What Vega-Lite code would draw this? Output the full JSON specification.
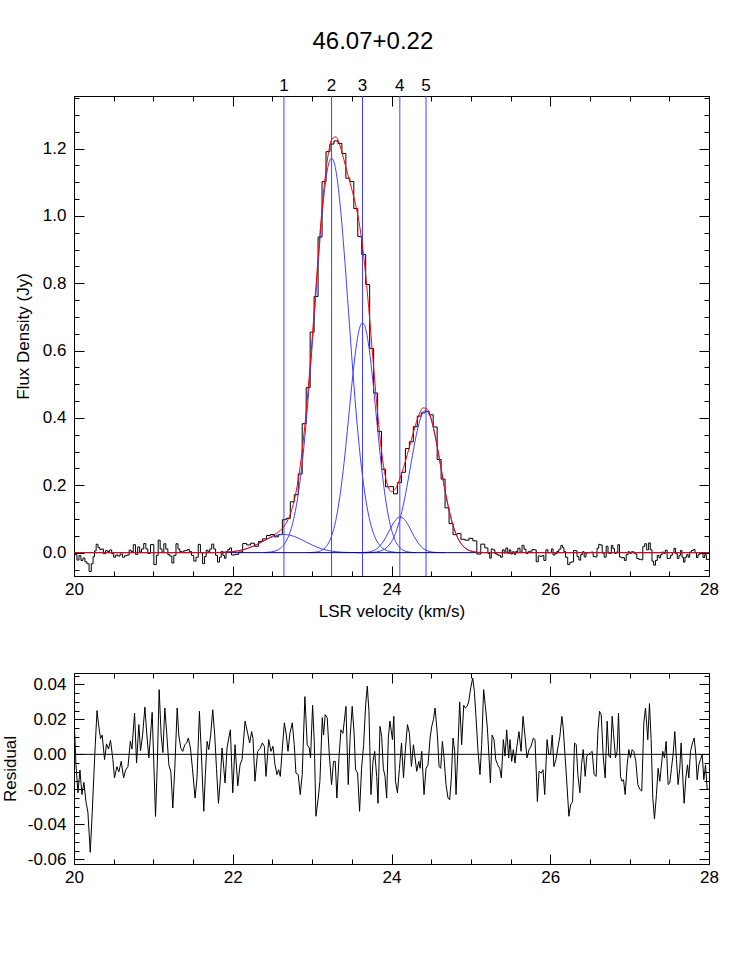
{
"$schema":"https://vega.github.io/schema/vega-lite/v6.json",
"background":"white",
"padding":{"left":1,"top":30,"right":20,"bottom":20},
"title":{"text":"46.07+0.22","fontSize":24,"fontWeight":"normal","font":"Liberation Sans","color":"black","anchor":"middle","offset":23,"dx":13},
"config":{"font":"Liberation Sans","view":{"stroke":null},
 "axis":{"labelFont":"Liberation Sans","titleFont":"Liberation Sans","labelFontSize":17,"titleFontSize":17,"titleFontWeight":"normal","labelColor":"black","titleColor":"black","domainColor":"black","tickColor":"black","domainWidth":1,"tickWidth":1,"grid":false,"labelFlush":false,"labelOverlap":false}},
"spacing":97,
"bounds":"flush",
"datasets":{
"lines":[{"n":"1","v":22.645},{"n":"2","v":23.245},{"n":"3","v":23.635},{"n":"4","v":24.105},{"n":"5","v":24.435}],
"zero":[{"v":20,"y":0},{"v":28,"y":0}],
"model":[{"v":20,"m":0},{"v":21.5,"m":0},{"v":21.7,"m":0.0001},{"v":21.8,"m":0.0004},{"v":21.9,"m":0.0012},{"v":21.95,"m":0.002},{"v":22.0,"m":0.0031},{"v":22.05,"m":0.0048},{"v":22.1,"m":0.007},{"v":22.15,"m":0.0101},{"v":22.2,"m":0.0139},{"v":22.25,"m":0.0185},{"v":22.3,"m":0.024},{"v":22.35,"m":0.0299},{"v":22.4,"m":0.0363},{"v":22.45,"m":0.0429},{"v":22.5,"m":0.0496},{"v":22.55,"m":0.0571},{"v":22.6,"m":0.0663},{"v":22.65,"m":0.0795},{"v":22.7,"m":0.1001},{"v":22.75,"m":0.1329},{"v":22.8,"m":0.1834},{"v":22.85,"m":0.2572},{"v":22.9,"m":0.358},{"v":22.95,"m":0.4861},{"v":23.0,"m":0.6354},{"v":23.05,"m":0.7961},{"v":23.1,"m":0.9515},{"v":23.15,"m":1.0841},{"v":23.2,"m":1.179},{"v":23.25,"m":1.2286},{"v":23.3,"m":1.235},{"v":23.35,"m":1.2096},{"v":23.4,"m":1.1676},{"v":23.45,"m":1.1223},{"v":23.5,"m":1.0787},{"v":23.55,"m":1.0312},{"v":23.6,"m":0.9687},{"v":23.65,"m":0.8797},{"v":23.7,"m":0.7614},{"v":23.75,"m":0.6222},{"v":23.8,"m":0.4792},{"v":23.85,"m":0.3522},{"v":23.9,"m":0.257},{"v":23.95,"m":0.2007},{"v":24.0,"m":0.1812},{"v":24.05,"m":0.1897},{"v":24.1,"m":0.2159},{"v":24.15,"m":0.2517},{"v":24.2,"m":0.2922},{"v":24.25,"m":0.3353},{"v":24.3,"m":0.3772},{"v":24.35,"m":0.4116},{"v":24.4,"m":0.4302},{"v":24.45,"m":0.4263},{"v":24.5,"m":0.3975},{"v":24.55,"m":0.3473},{"v":24.6,"m":0.2837},{"v":24.65,"m":0.2165},{"v":24.7,"m":0.1541},{"v":24.75,"m":0.1024},{"v":24.8,"m":0.0635},{"v":24.85,"m":0.0367},{"v":24.9,"m":0.0198},{"v":24.95,"m":0.01},{"v":25.0,"m":0.0047},{"v":25.05,"m":0.0021},{"v":25.1,"m":0.0008},{"v":25.15,"m":0.0003},{"v":25.2,"m":0.0001},{"v":25.3,"m":0},{"v":28,"m":0}],
"comps":[
{"c":1,"v":21.565,"y":0},{"c":1,"v":21.7,"y":0.0001},{"c":1,"v":21.835,"y":0.0006},{"c":1,"v":21.97,"y":0.0024},{"c":1,"v":22.0375,"y":0.0043},{"c":1,"v":22.105,"y":0.0073},{"c":1,"v":22.1725,"y":0.0117},{"c":1,"v":22.24,"y":0.0175},{"c":1,"v":22.3075,"y":0.0247},{"c":1,"v":22.375,"y":0.0328},{"c":1,"v":22.4425,"y":0.0408},{"c":1,"v":22.51,"y":0.0477},{"c":1,"v":22.5775,"y":0.0523},{"c":1,"v":22.645,"y":0.054},{"c":1,"v":22.7125,"y":0.0523},{"c":1,"v":22.78,"y":0.0477},{"c":1,"v":22.8475,"y":0.0408},{"c":1,"v":22.915,"y":0.0328},{"c":1,"v":22.9825,"y":0.0247},{"c":1,"v":23.05,"y":0.0175},{"c":1,"v":23.1175,"y":0.0117},{"c":1,"v":23.185,"y":0.0073},{"c":1,"v":23.2525,"y":0.0043},{"c":1,"v":23.32,"y":0.0024},{"c":1,"v":23.455,"y":0.0006},{"c":1,"v":23.59,"y":0.0001},{"c":1,"v":23.725,"y":0},
{"c":2,"v":22.385,"y":0.0004},{"c":2,"v":22.4925,"y":0.0026},{"c":2,"v":22.6,"y":0.013},{"c":2,"v":22.6538,"y":0.0267},{"c":2,"v":22.7075,"y":0.0515},{"c":2,"v":22.7613,"y":0.0933},{"c":2,"v":22.815,"y":0.1586},{"c":2,"v":22.8688,"y":0.2535},{"c":2,"v":22.9225,"y":0.3805},{"c":2,"v":22.9763,"y":0.5365},{"c":2,"v":23.03,"y":0.7108},{"c":2,"v":23.0838,"y":0.8846},{"c":2,"v":23.1375,"y":1.0343},{"c":2,"v":23.1913,"y":1.1359},{"c":2,"v":23.245,"y":1.172},{"c":2,"v":23.2988,"y":1.1359},{"c":2,"v":23.3525,"y":1.0343},{"c":2,"v":23.4063,"y":0.8846},{"c":2,"v":23.46,"y":0.7108},{"c":2,"v":23.5138,"y":0.5365},{"c":2,"v":23.5675,"y":0.3805},{"c":2,"v":23.6213,"y":0.2535},{"c":2,"v":23.675,"y":0.1586},{"c":2,"v":23.7288,"y":0.0933},{"c":2,"v":23.7825,"y":0.0515},{"c":2,"v":23.8363,"y":0.0267},{"c":2,"v":23.89,"y":0.013},{"c":2,"v":23.9975,"y":0.0026},{"c":2,"v":24.105,"y":0.0004},
{"c":3,"v":22.955,"y":0.0002},{"c":3,"v":23.04,"y":0.0015},{"c":3,"v":23.125,"y":0.0076},{"c":3,"v":23.1675,"y":0.0156},{"c":3,"v":23.21,"y":0.03},{"c":3,"v":23.2525,"y":0.0544},{"c":3,"v":23.295,"y":0.0924},{"c":3,"v":23.3375,"y":0.1477},{"c":3,"v":23.38,"y":0.2218},{"c":3,"v":23.4225,"y":0.3127},{"c":3,"v":23.465,"y":0.4142},{"c":3,"v":23.5075,"y":0.5155},{"c":3,"v":23.55,"y":0.6027},{"c":3,"v":23.5925,"y":0.662},{"c":3,"v":23.635,"y":0.683},{"c":3,"v":23.6775,"y":0.662},{"c":3,"v":23.72,"y":0.6027},{"c":3,"v":23.7625,"y":0.5155},{"c":3,"v":23.805,"y":0.4142},{"c":3,"v":23.8475,"y":0.3127},{"c":3,"v":23.89,"y":0.2218},{"c":3,"v":23.9325,"y":0.1477},{"c":3,"v":23.975,"y":0.0924},{"c":3,"v":24.0175,"y":0.0544},{"c":3,"v":24.06,"y":0.03},{"c":3,"v":24.1025,"y":0.0156},{"c":3,"v":24.145,"y":0.0076},{"c":3,"v":24.23,"y":0.0015},{"c":3,"v":24.315,"y":0.0002},
{"c":4,"v":23.55,"y":0},{"c":4,"v":23.62,"y":0.0002},{"c":4,"v":23.69,"y":0.0012},{"c":4,"v":23.725,"y":0.0024},{"c":4,"v":23.76,"y":0.0047},{"c":4,"v":23.795,"y":0.0084},{"c":4,"v":23.83,"y":0.0143},{"c":4,"v":23.865,"y":0.0229},{"c":4,"v":23.9,"y":0.0344},{"c":4,"v":23.935,"y":0.0485},{"c":4,"v":23.97,"y":0.0643},{"c":4,"v":24.005,"y":0.08},{"c":4,"v":24.04,"y":0.0935},{"c":4,"v":24.075,"y":0.1027},{"c":4,"v":24.11,"y":0.106},{"c":4,"v":24.145,"y":0.1027},{"c":4,"v":24.18,"y":0.0935},{"c":4,"v":24.215,"y":0.08},{"c":4,"v":24.25,"y":0.0643},{"c":4,"v":24.285,"y":0.0485},{"c":4,"v":24.32,"y":0.0344},{"c":4,"v":24.355,"y":0.0229},{"c":4,"v":24.39,"y":0.0143},{"c":4,"v":24.425,"y":0.0084},{"c":4,"v":24.46,"y":0.0047},{"c":4,"v":24.495,"y":0.0024},{"c":4,"v":24.53,"y":0.0012},{"c":4,"v":24.6,"y":0.0002},{"c":4,"v":24.67,"y":0},
{"c":5,"v":23.67,"y":0.0001},{"c":5,"v":23.765,"y":0.0009},{"c":5,"v":23.86,"y":0.0047},{"c":5,"v":23.9075,"y":0.0096},{"c":5,"v":23.955,"y":0.0186},{"c":5,"v":24.0025,"y":0.0337},{"c":5,"v":24.05,"y":0.0572},{"c":5,"v":24.0975,"y":0.0915},{"c":5,"v":24.145,"y":0.1373},{"c":5,"v":24.1925,"y":0.1937},{"c":5,"v":24.24,"y":0.2565},{"c":5,"v":24.2875,"y":0.3193},{"c":5,"v":24.335,"y":0.3733},{"c":5,"v":24.3825,"y":0.41},{"c":5,"v":24.43,"y":0.423},{"c":5,"v":24.4775,"y":0.41},{"c":5,"v":24.525,"y":0.3733},{"c":5,"v":24.5725,"y":0.3193},{"c":5,"v":24.62,"y":0.2565},{"c":5,"v":24.6675,"y":0.1937},{"c":5,"v":24.715,"y":0.1373},{"c":5,"v":24.7625,"y":0.0915},{"c":5,"v":24.81,"y":0.0572},{"c":5,"v":24.8575,"y":0.0337},{"c":5,"v":24.905,"y":0.0186},{"c":5,"v":24.9525,"y":0.0096},{"c":5,"v":25.0,"y":0.0047},{"c":5,"v":25.095,"y":0.0009},{"c":5,"v":25.19,"y":0.0001}],
"spec":[
{"v":20,"f":0},{"v":20.025,"f":-0.006},{"v":20.05,"f":-0.022},{"v":20.075,"f":-0.009},{"v":20.1,"f":-0.023},{"v":20.125,"f":-0.016},{"v":20.15,"f":-0.027},{"v":20.175,"f":-0.033},{"v":20.205,"f":-0.056},{"v":20.23,"f":-0.033},{"v":20.25,"f":-0.012},{"v":20.268,"f":0.0055},{"v":20.29,"f":0.025},{"v":20.315,"f":0.015},{"v":20.335,"f":0.009},{"v":20.355,"f":0.011},{"v":20.385,"f":-0.003},{"v":20.41,"f":0.006},{"v":20.435,"f":0.003},{"v":20.46,"f":0.008},{"v":20.49,"f":-0.003},{"v":20.51,"f":-0.0135},{"v":20.54,"f":-0.007},{"v":20.565,"f":-0.01},{"v":20.595,"f":-0.004},{"v":20.625,"f":-0.0135},{"v":20.65,"f":-0.009},{"v":20.68,"f":-0.007},{"v":20.71,"f":0.0075},{"v":20.73,"f":0.003},{"v":20.763,"f":0.0236},{"v":20.788,"f":-0.005},{"v":20.817,"f":0.017},{"v":20.838,"f":0.002},{"v":20.864,"f":0.011},{"v":20.893,"f":0.027},{"v":20.918,"f":0.011},{"v":20.943,"f":-0.002},{"v":20.985,"f":0.024},{"v":21.027,"f":-0.0355},{"v":21.048,"f":-0.008},{"v":21.073,"f":0.037},{"v":21.098,"f":0.011},{"v":21.12,"f":0.001},{"v":21.144,"f":0.0265},{"v":21.17,"f":0.011},{"v":21.195,"f":-0.006},{"v":21.22,"f":-0.01},{"v":21.245,"f":-0.0307},{"v":21.27,"f":-0.008},{"v":21.3,"f":0.0265},{"v":21.32,"f":0.011},{"v":21.345,"f":0.0036},{"v":21.37,"f":0.0017},{"v":21.395,"f":0.0055},{"v":21.42,"f":0.0065},{"v":21.44,"f":0.0093},{"v":21.467,"f":0.0036},{"v":21.492,"f":-0.008},{"v":21.525,"f":-0.025},{"v":21.55,"f":-0.0135},{"v":21.58,"f":0.0246},{"v":21.605,"f":0},{"v":21.635,"f":-0.0326},{"v":21.655,"f":-0.0116},{"v":21.677,"f":0.0074},{"v":21.698,"f":0.0027},{"v":21.722,"f":0.011},{"v":21.748,"f":0.0255},{"v":21.773,"f":0.011},{"v":21.795,"f":-0.008},{"v":21.82,"f":-0.028},{"v":21.845,"f":-0.0135},{"v":21.865,"f":0.0036},{"v":21.887,"f":-0.008},{"v":21.903,"f":-0.0164},{"v":21.928,"f":0.0036},{"v":21.95,"f":0.0093},{"v":21.97,"f":0.014},
{"v":22.0,"f":-0.007},{"v":22.05,"f":-0.005},{"v":22.1,"f":0.002},{"v":22.15,"f":0.027},{"v":22.2,"f":0.023},{"v":22.25,"f":0.028},{"v":22.3,"f":0.019},{"v":22.35,"f":0.0335},{"v":22.4,"f":0.041},{"v":22.45,"f":0.051},{"v":22.5,"f":0.054},{"v":22.55,"f":0.047},{"v":22.6,"f":0.054},{"v":22.65,"f":0.098},{"v":22.7,"f":0.102},{"v":22.75,"f":0.151},{"v":22.8,"f":0.172},{"v":22.85,"f":0.234},{"v":22.9,"f":0.383},{"v":22.95,"f":0.49},{"v":23.0,"f":0.655},{"v":23.05,"f":0.761},{"v":23.1,"f":0.9375},{"v":23.15,"f":1.102},{"v":23.2,"f":1.191},{"v":23.25,"f":1.2136},{"v":23.3,"f":1.223},{"v":23.35,"f":1.2156},{"v":23.4,"f":1.1856},{"v":23.45,"f":1.1123},{"v":23.5,"f":1.1027},{"v":23.55,"f":1.0222},{"v":23.6,"f":0.9387},{"v":23.65,"f":0.8857},{"v":23.7,"f":0.7964},{"v":23.75,"f":0.6062},{"v":23.8,"f":0.4742},{"v":23.85,"f":0.3602},{"v":23.9,"f":0.248},{"v":23.95,"f":0.1957},{"v":24.0,"f":0.1962},{"v":24.05,"f":0.1747},{"v":24.1,"f":0.2079},{"v":24.15,"f":0.2387},{"v":24.2,"f":0.3092},{"v":24.25,"f":0.3293},{"v":24.3,"f":0.3742},{"v":24.35,"f":0.4056},{"v":24.4,"f":0.4152},{"v":24.45,"f":0.4193},{"v":24.5,"f":0.4095},{"v":24.55,"f":0.3733},{"v":24.6,"f":0.2767},{"v":24.65,"f":0.2185},{"v":24.7,"f":0.1331},{"v":24.75,"f":0.0864},{"v":24.8,"f":0.0535},{"v":24.85,"f":0.0567},{"v":24.9,"f":0.0398},{"v":24.95,"f":0.037},{"v":25.0,"f":0.0427},{"v":25.05,"f":0.0351},{"v":25.1,"f":-0.0042},{"v":25.15,"f":0.0253},{"v":25.2,"f":0.0141},
{"v":25.229,"f":-0.002},{"v":25.246,"f":-0.0164},{"v":25.267,"f":0.011},{"v":25.292,"f":0.0084},{"v":25.313,"f":-0.003},{"v":25.338,"f":-0.006},{"v":25.363,"f":-0.008},{"v":25.384,"f":-0.0135},{"v":25.409,"f":0.0084},{"v":25.43,"f":-0.001},{"v":25.451,"f":0.014},{"v":25.476,"f":-0.002},{"v":25.493,"f":0.0084},{"v":25.514,"f":-0.004},{"v":25.535,"f":0.0027},{"v":25.556,"f":-0.005},{"v":25.577,"f":0.0036},{"v":25.606,"f":0.013},{"v":25.632,"f":0.0017},{"v":25.657,"f":0.0217},{"v":25.682,"f":0.0103},{"v":25.707,"f":-0.002},{"v":25.733,"f":0.0027},{"v":25.758,"f":0.0046},{"v":25.787,"f":0.0093},{"v":25.808,"f":0.0084},{"v":25.838,"f":-0.027},{"v":25.859,"f":-0.0097},{"v":25.888,"f":-0.0107},{"v":25.909,"f":-0.0088},{"v":25.93,"f":-0.023},{"v":25.96,"f":0.0084},{"v":25.981,"f":0},{"v":26.004,"f":0},{"v":26.025,"f":0.011},{"v":26.046,"f":-0.007},{"v":26.071,"f":-0.003},{"v":26.096,"f":0.0036},{"v":26.121,"f":0.0103},{"v":26.147,"f":0.0217},{"v":26.163,"f":0.015},{"v":26.18,"f":0.0036},{"v":26.205,"f":-0.0135},{"v":26.235,"f":-0.0354},{"v":26.256,"f":-0.029},{"v":26.281,"f":-0.027},{"v":26.306,"f":0.0065},{"v":26.327,"f":0.0055},{"v":26.348,"f":-0.0116},{"v":26.373,"f":-0.022},{"v":26.394,"f":-0.006},{"v":26.415,"f":0.0027},{"v":26.44,"f":-0.0126},{"v":26.461,"f":-0.001},{"v":26.482,"f":0},{"v":26.507,"f":0.0008},{"v":26.528,"f":0.0017},{"v":26.553,"f":-0.0116},{"v":26.578,"f":-0.0126},{"v":26.6,"f":0.013},{"v":26.621,"f":0.0246},{"v":26.642,"f":0.0227},{"v":26.667,"f":-0.001},{"v":26.692,"f":-0.0135},{"v":26.717,"f":0.019},{"v":26.738,"f":-0.001},{"v":26.759,"f":-0.002},{"v":26.78,"f":0.0217},{"v":26.797,"f":0.012},{"v":26.822,"f":-0.002},{"v":26.843,"f":0.0017},{"v":26.86,"f":0.0236},{"v":26.885,"f":-0.0126},{"v":26.902,"f":-0.0154},{"v":26.923,"f":-0.0145},{"v":26.944,"f":-0.023},{"v":26.969,"f":-0.006},{"v":26.99,"f":0.0027},{"v":27.011,"f":-0.002},{"v":27.032,"f":0.0027},{"v":27.053,"f":0.0017},{"v":27.078,"f":-0.004},{"v":27.103,"f":-0.0173},{"v":27.128,"f":-0.02},{"v":27.153,"f":-0.021},{"v":27.179,"f":0.018},{"v":27.2,"f":0.0265},{"v":27.229,"f":0.0084},{"v":27.25,"f":0.029},{"v":27.271,"f":0.0084},{"v":27.292,"f":-0.025},{"v":27.313,"f":-0.037},{"v":27.338,"f":-0.023},{"v":27.359,"f":-0.008},{"v":27.38,"f":-0.0154},{"v":27.401,"f":-0.006},{"v":27.418,"f":0.0017},{"v":27.439,"f":-0.002},{"v":27.46,"f":0.0074},{"v":27.485,"f":-0.0173},{"v":27.506,"f":-0.0164},{"v":27.527,"f":-0.008},{"v":27.548,"f":0},{"v":27.569,"f":0.013},{"v":27.59,"f":-0.003},{"v":27.611,"f":-0.0173},{"v":27.632,"f":-0.008},{"v":27.649,"f":0.0065},{"v":27.67,"f":-0.0135},{"v":27.687,"f":-0.028},{"v":27.708,"f":-0.0135},{"v":27.729,"f":-0.006},{"v":27.746,"f":-0.0135},{"v":27.767,"f":0.0017},{"v":27.792,"f":0.0065},{"v":27.813,"f":0.0093},{"v":27.834,"f":0},{"v":27.851,"f":-0.0145},{"v":27.872,"f":-0.006},{"v":27.893,"f":-0.003},{"v":27.914,"f":0},{"v":27.935,"f":-0.0145},{"v":27.956,"f":-0.006},{"v":27.977,"f":-0.02},{"v":28,"f":-0.02}],
"resid":[
{"v":20,"r":0.022},{"v":20.025,"r":-0.006},{"v":20.05,"r":-0.022},{"v":20.075,"r":-0.009},{"v":20.1,"r":-0.023},{"v":20.125,"r":-0.016},{"v":20.15,"r":-0.027},{"v":20.175,"r":-0.033},{"v":20.205,"r":-0.056},{"v":20.23,"r":-0.033},{"v":20.25,"r":-0.012},{"v":20.268,"r":0.0055},{"v":20.29,"r":0.025},{"v":20.315,"r":0.015},{"v":20.335,"r":0.009},{"v":20.355,"r":0.011},{"v":20.385,"r":-0.003},{"v":20.41,"r":0.006},{"v":20.435,"r":0.003},{"v":20.46,"r":0.008},{"v":20.49,"r":-0.003},{"v":20.51,"r":-0.0135},{"v":20.54,"r":-0.007},{"v":20.565,"r":-0.01},{"v":20.595,"r":-0.004},{"v":20.625,"r":-0.0135},{"v":20.65,"r":-0.009},{"v":20.68,"r":-0.007},{"v":20.71,"r":0.0075},{"v":20.73,"r":0.003},{"v":20.763,"r":0.0236},{"v":20.788,"r":-0.005},{"v":20.817,"r":0.017},{"v":20.838,"r":0.002},{"v":20.864,"r":0.011},{"v":20.893,"r":0.027},{"v":20.918,"r":0.011},{"v":20.943,"r":-0.002},{"v":20.985,"r":0.024},{"v":21.027,"r":-0.0355},{"v":21.048,"r":-0.008},{"v":21.073,"r":0.037},{"v":21.098,"r":0.011},{"v":21.12,"r":0.001},{"v":21.144,"r":0.0265},{"v":21.17,"r":0.011},{"v":21.195,"r":-0.006},{"v":21.22,"r":-0.01},{"v":21.245,"r":-0.0307},{"v":21.27,"r":-0.008},{"v":21.3,"r":0.0265},{"v":21.32,"r":0.011},{"v":21.345,"r":0.0036},{"v":21.37,"r":0.0017},{"v":21.395,"r":0.0055},{"v":21.42,"r":0.0065},{"v":21.44,"r":0.0093},{"v":21.467,"r":0.0036},{"v":21.492,"r":-0.008},{"v":21.525,"r":-0.025},{"v":21.55,"r":-0.0135},{"v":21.58,"r":0.0246},{"v":21.605,"r":0},{"v":21.635,"r":-0.0326},{"v":21.655,"r":-0.0116},{"v":21.677,"r":0.0074},{"v":21.698,"r":0.0027},{"v":21.722,"r":0.011},{"v":21.748,"r":0.0255},{"v":21.773,"r":0.011},{"v":21.795,"r":-0.008},{"v":21.82,"r":-0.028},{"v":21.845,"r":-0.0135},{"v":21.865,"r":0.0036},{"v":21.887,"r":-0.008},{"v":21.903,"r":-0.0164},{"v":21.928,"r":0.0036},{"v":21.95,"r":0.0093},{"v":21.97,"r":0.014},{"v":21.985,"r":-0.004},
{"v":22.0,"r":-0.022},{"v":22.029,"r":0.0055},{"v":22.063,"r":-0.018},{"v":22.092,"r":-0.006},{"v":22.117,"r":-0.003},{"v":22.155,"r":0.019},{"v":22.188,"r":0.012},{"v":22.213,"r":0.0065},{"v":22.238,"r":0.013},{"v":22.255,"r":0.009},{"v":22.28,"r":-0.0154},{"v":22.314,"r":0.0017},{"v":22.348,"r":0.0036},{"v":22.373,"r":0.0065},{"v":22.398,"r":0.0046},{"v":22.419,"r":-0.0126},{"v":22.453,"r":0.0084},{"v":22.482,"r":0.0017},{"v":22.507,"r":0.0046},{"v":22.532,"r":-0.006},{"v":22.557,"r":-0.0116},{"v":22.578,"r":-0.0088},{"v":22.599,"r":-0.0126},{"v":22.625,"r":0.0036},{"v":22.65,"r":0.018},{"v":22.675,"r":0.011},{"v":22.696,"r":0.0017},{"v":22.72,"r":0.012},{"v":22.75,"r":0.018},{"v":22.775,"r":0.0055},{"v":22.796,"r":-0.0107},{"v":22.825,"r":-0.0116},{"v":22.85,"r":-0.023},{"v":22.875,"r":-0.0116},{"v":22.909,"r":0.033},{"v":22.938,"r":0.0055},{"v":22.964,"r":0.0036},{"v":22.98,"r":-0.002},{"v":23.006,"r":0.028},{"v":23.027,"r":0.0074},{"v":23.048,"r":-0.0354},{"v":23.077,"r":-0.025},{"v":23.098,"r":-0.0154},{"v":23.128,"r":0.021},{"v":23.144,"r":0.011},{"v":23.165,"r":0.0227},{"v":23.19,"r":0.021},{"v":23.216,"r":0},{"v":23.245,"r":-0.0173},{"v":23.27,"r":-0.004},{"v":23.291,"r":-0.004},{"v":23.312,"r":-0.025},{"v":23.338,"r":-0.002},{"v":23.363,"r":0.014},{"v":23.388,"r":0.012},{"v":23.426,"r":0.0274},{"v":23.455,"r":-0.0173},{"v":23.48,"r":0.011},{"v":23.505,"r":0.0274},{"v":23.53,"r":0.011},{"v":23.547,"r":-0.0088},{"v":23.573,"r":-0.0107},{"v":23.598,"r":-0.0326},{"v":23.623,"r":-0.008},{"v":23.649,"r":0.0055},{"v":23.674,"r":0.028},{"v":23.695,"r":0.039},{"v":23.716,"r":0.0246},{"v":23.741,"r":-0.023},{"v":23.767,"r":-0.004},{"v":23.788,"r":0.0017},{"v":23.813,"r":-0.0126},{"v":23.83,"r":-0.028},{"v":23.855,"r":0.016},{"v":23.876,"r":0.0103},{"v":23.897,"r":-0.008},{"v":23.918,"r":-0.0126},{"v":23.939,"r":-0.025},{"v":23.96,"r":0.0093},{"v":23.98,"r":0.019},
{"v":24.012,"r":0.0084},{"v":24.029,"r":0.0217},{"v":24.05,"r":-0.0154},{"v":24.075,"r":-0.022},{"v":24.1,"r":-0.008},{"v":24.126,"r":0.0065},{"v":24.151,"r":-0.0135},{"v":24.176,"r":0.0036},{"v":24.201,"r":0.017},{"v":24.226,"r":0.012},{"v":24.251,"r":-0.0069},{"v":24.276,"r":0.0055},{"v":24.297,"r":-0.002},{"v":24.318,"r":-0.0097},{"v":24.343,"r":-0.004},{"v":24.36,"r":-0.008},{"v":24.381,"r":0.0017},{"v":24.41,"r":-0.023},{"v":24.435,"r":-0.008},{"v":24.46,"r":-0.006},{"v":24.486,"r":0.0093},{"v":24.507,"r":0.016},{"v":24.528,"r":0.0198},{"v":24.549,"r":0.0265},{"v":24.578,"r":0.011},{"v":24.599,"r":-0.0069},{"v":24.62,"r":-0.008},{"v":24.641,"r":0.0074},{"v":24.662,"r":-0.002},{"v":24.687,"r":-0.0173},{"v":24.712,"r":-0.025},{"v":24.733,"r":-0.026},{"v":24.754,"r":-0.0135},{"v":24.775,"r":0.0093},{"v":24.796,"r":0.0017},{"v":24.813,"r":-0.023},{"v":24.834,"r":0},{"v":24.859,"r":0.03},{"v":24.884,"r":0.0055},{"v":24.91,"r":0.028},{"v":24.931,"r":0.0265},{"v":24.952,"r":0.0274},{"v":24.973,"r":0.03},{"v":24.998,"r":0.038},{"v":25.023,"r":0.0436},{"v":25.044,"r":0.036},{"v":25.065,"r":0.021},{"v":25.09,"r":0.0017},{"v":25.115,"r":-0.0116},{"v":25.136,"r":0.0055},{"v":25.161,"r":0.037},{"v":25.182,"r":0.028},{"v":25.208,"r":0.015},{"v":25.229,"r":-0.002},{"v":25.246,"r":-0.0164},{"v":25.267,"r":0.011},{"v":25.292,"r":0.0084},{"v":25.313,"r":-0.003},{"v":25.338,"r":-0.006},{"v":25.363,"r":-0.008},{"v":25.384,"r":-0.0135},{"v":25.409,"r":0.0084},{"v":25.43,"r":-0.001},{"v":25.451,"r":0.014},{"v":25.476,"r":-0.002},{"v":25.493,"r":0.0084},{"v":25.514,"r":-0.004},{"v":25.535,"r":0.0027},{"v":25.556,"r":-0.005},{"v":25.577,"r":0.0036},{"v":25.606,"r":0.013},{"v":25.632,"r":0.0017},{"v":25.657,"r":0.0217},{"v":25.682,"r":0.0103},{"v":25.707,"r":-0.002},{"v":25.733,"r":0.0027},{"v":25.758,"r":0.0046},{"v":25.787,"r":0.0093},{"v":25.808,"r":0.0084},{"v":25.838,"r":-0.027},{"v":25.859,"r":-0.0097},{"v":25.888,"r":-0.0107},{"v":25.909,"r":-0.0088},{"v":25.93,"r":-0.023},{"v":25.96,"r":0.0084},{"v":25.981,"r":0},
{"v":26.004,"r":0},{"v":26.025,"r":0.011},{"v":26.046,"r":-0.007},{"v":26.071,"r":-0.003},{"v":26.096,"r":0.0036},{"v":26.121,"r":0.0103},{"v":26.147,"r":0.0217},{"v":26.163,"r":0.015},{"v":26.18,"r":0.0036},{"v":26.205,"r":-0.0135},{"v":26.235,"r":-0.0354},{"v":26.256,"r":-0.029},{"v":26.281,"r":-0.027},{"v":26.306,"r":0.0065},{"v":26.327,"r":0.0055},{"v":26.348,"r":-0.0116},{"v":26.373,"r":-0.022},{"v":26.394,"r":-0.006},{"v":26.415,"r":0.0027},{"v":26.44,"r":-0.0126},{"v":26.461,"r":-0.001},{"v":26.482,"r":0},{"v":26.507,"r":0.0008},{"v":26.528,"r":0.0017},{"v":26.553,"r":-0.0116},{"v":26.578,"r":-0.0126},{"v":26.6,"r":0.013},{"v":26.621,"r":0.0246},{"v":26.642,"r":0.0227},{"v":26.667,"r":-0.001},{"v":26.692,"r":-0.0135},{"v":26.717,"r":0.019},{"v":26.738,"r":-0.001},{"v":26.759,"r":-0.002},{"v":26.78,"r":0.0217},{"v":26.797,"r":0.012},{"v":26.822,"r":-0.002},{"v":26.843,"r":0.0017},{"v":26.86,"r":0.0236},{"v":26.885,"r":-0.0126},{"v":26.902,"r":-0.0154},{"v":26.923,"r":-0.0145},{"v":26.944,"r":-0.023},{"v":26.969,"r":-0.006},{"v":26.99,"r":0.0027},{"v":27.011,"r":-0.002},{"v":27.032,"r":0.0027},{"v":27.053,"r":0.0017},{"v":27.078,"r":-0.004},{"v":27.103,"r":-0.0173},{"v":27.128,"r":-0.02},{"v":27.153,"r":-0.021},{"v":27.179,"r":0.018},{"v":27.2,"r":0.0265},{"v":27.229,"r":0.0084},{"v":27.25,"r":0.029},{"v":27.271,"r":0.0084},{"v":27.292,"r":-0.025},{"v":27.313,"r":-0.037},{"v":27.338,"r":-0.023},{"v":27.359,"r":-0.008},{"v":27.38,"r":-0.0154},{"v":27.401,"r":-0.006},{"v":27.418,"r":0.0017},{"v":27.439,"r":-0.002},{"v":27.46,"r":0.0074},{"v":27.485,"r":-0.0173},{"v":27.506,"r":-0.0164},{"v":27.527,"r":-0.008},{"v":27.548,"r":0},{"v":27.569,"r":0.013},{"v":27.59,"r":-0.003},{"v":27.611,"r":-0.0173},{"v":27.632,"r":-0.008},{"v":27.649,"r":0.0065},{"v":27.67,"r":-0.0135},{"v":27.687,"r":-0.028},{"v":27.708,"r":-0.0135},{"v":27.729,"r":-0.006},{"v":27.746,"r":-0.0135},{"v":27.767,"r":0.0017},{"v":27.792,"r":0.0065},{"v":27.813,"r":0.0093},{"v":27.834,"r":0},{"v":27.851,"r":-0.0145},{"v":27.872,"r":-0.006},{"v":27.893,"r":-0.003},{"v":27.914,"r":0},{"v":27.935,"r":-0.0145},{"v":27.956,"r":-0.006},{"v":27.977,"r":-0.02},{"v":28,"r":-0.02}]
},
"vconcat":[
{"width":635,"height":480,
 "layer":[
  {"data":{"name":"spec"},"mark":{"type":"line","interpolate":"step","color":"black","strokeWidth":1,"clip":true},
   "encoding":{
    "x":{"field":"v","type":"quantitative","scale":{"domain":[20,28],"nice":false,"zero":false},
     "axis":{"orient":"bottom","values":[20,20.5,21,21.5,22,22.5,23,23.5,24,24.5,25,25.5,26,26.5,27,27.5,28],
      "tickSize":{"condition":{"test":"datum.value % 2 === 0","value":-10},"value":-5},
      "labelExpr":"datum.value % 2 === 0 ? format(datum.value,'d') : ''","labelPadding":15,"title":"LSR velocity (km/s)","titlePadding":1}},
    "y":{"field":"f","type":"quantitative","scale":{"domain":[-0.0693,1.3564],"nice":false,"zero":false},
     "axis":{"orient":"left","values":[-0.05,0,0.05,0.1,0.15,0.2,0.25,0.3,0.35,0.4,0.45,0.5,0.55,0.6,0.65,0.7,0.75,0.8,0.85,0.9,0.95,1,1.05,1.1,1.15,1.2,1.25,1.3,1.35],
      "tickSize":{"condition":{"test":"round(datum.value*100) % 20 === 0","value":-10},"value":-5},
      "labelExpr":"round(datum.value*100) % 20 === 0 ? format(datum.value,'.1f') : ''","labelPadding":18,"title":"Flux Density (Jy)","titlePadding":10}}}},
  {"data":{"name":"comps"},"mark":{"type":"line","interpolate":"monotone","color":"#4040ff","strokeWidth":1,"clip":true},
   "encoding":{"x":{"field":"v","type":"quantitative","axis":null},"y":{"field":"y","type":"quantitative","axis":null},"detail":{"field":"c","type":"nominal"}}},
  {"data":{"name":"lines"},"mark":{"type":"rule","color":"#4040ff","strokeWidth":1},
   "encoding":{"x":{"field":"v","type":"quantitative","axis":null}}},
  {"data":{"name":"zero"},"mark":{"type":"line","color":"#000080","strokeWidth":1},
   "encoding":{"x":{"field":"v","type":"quantitative","axis":null},"y":{"field":"y","type":"quantitative","axis":null}}},
  {"data":{"name":"model"},"mark":{"type":"line","interpolate":"monotone","color":"#ff0000","strokeWidth":1,"clip":true},
   "encoding":{
    "x":{"field":"v","type":"quantitative","axis":{"orient":"top","values":[20,20.5,21,21.5,22,22.5,23,23.5,24,24.5,25,25.5,26,26.5,27,27.5,28],"tickSize":{"condition":{"test":"datum.value % 2 === 0","value":-10},"value":-5},"labels":false,"title":null}},
    "y":{"field":"m","type":"quantitative","axis":{"orient":"right","values":[-0.05,0,0.05,0.1,0.15,0.2,0.25,0.3,0.35,0.4,0.45,0.5,0.55,0.6,0.65,0.7,0.75,0.8,0.85,0.9,0.95,1,1.05,1.1,1.15,1.2,1.25,1.3,1.35],"tickSize":{"condition":{"test":"round(datum.value*100) % 20 === 0","value":-10},"value":-5},"labels":false,"title":null}}}},
  {"data":{"name":"lines"},"mark":{"type":"text","baseline":"alphabetic","align":"center","dy":-5,"fontSize":17,"font":"Liberation Sans","color":"black"},
   "encoding":{"x":{"field":"v","type":"quantitative","axis":null},"y":{"datum":1.3564,"type":"quantitative","axis":null},"text":{"field":"n","type":"nominal"}}}
 ],
 "resolve":{"axis":{"x":"independent","y":"independent"}}
},
{"width":635,"height":191,
 "layer":[
  {"data":{"name":"resid"},"mark":{"type":"line","color":"black","strokeWidth":1,"clip":true},
   "encoding":{
    "x":{"field":"v","type":"quantitative","scale":{"domain":[20,28],"nice":false,"zero":false},
     "axis":{"orient":"bottom","values":[20,20.5,21,21.5,22,22.5,23,23.5,24,24.5,25,25.5,26,26.5,27,27.5,28],
      "tickSize":{"condition":{"test":"datum.value % 2 === 0","value":-10},"value":-5},
      "labelExpr":"datum.value % 2 === 0 ? format(datum.value,'d') : ''","labelPadding":15,"title":null}},
    "y":{"field":"r","type":"quantitative","scale":{"domain":[-0.0627,0.0465],"nice":false,"zero":false},
     "axis":{"orient":"left","values":[-0.06,-0.055,-0.05,-0.045,-0.04,-0.035,-0.03,-0.025,-0.02,-0.015,-0.01,-0.005,0,0.005,0.01,0.015,0.02,0.025,0.03,0.035,0.04,0.045],
      "tickSize":{"condition":{"test":"round(datum.value*1000) % 20 === 0","value":-10},"value":-5},
      "labelExpr":"round(datum.value*1000) % 20 === 0 ? replace(format(datum.value,'.2f'),'\u2212','-') : ''","labelPadding":18,"title":"Residual","titlePadding":8}}}},
  {"data":{"name":"zero"},"mark":{"type":"line","color":"black","strokeWidth":1},
   "encoding":{
    "x":{"field":"v","type":"quantitative","axis":{"orient":"top","values":[20,20.5,21,21.5,22,22.5,23,23.5,24,24.5,25,25.5,26,26.5,27,27.5,28],"tickSize":{"condition":{"test":"datum.value % 2 === 0","value":-10},"value":-5},"labels":false,"title":null}},
    "y":{"field":"y","type":"quantitative","axis":{"orient":"right","values":[-0.06,-0.055,-0.05,-0.045,-0.04,-0.035,-0.03,-0.025,-0.02,-0.015,-0.01,-0.005,0,0.005,0.01,0.015,0.02,0.025,0.03,0.035,0.04,0.045],"tickSize":{"condition":{"test":"round(datum.value*1000) % 20 === 0","value":-10},"value":-5},"labels":false,"title":null}}}}
 ],
 "resolve":{"axis":{"x":"independent","y":"independent"}}
}
]
}
